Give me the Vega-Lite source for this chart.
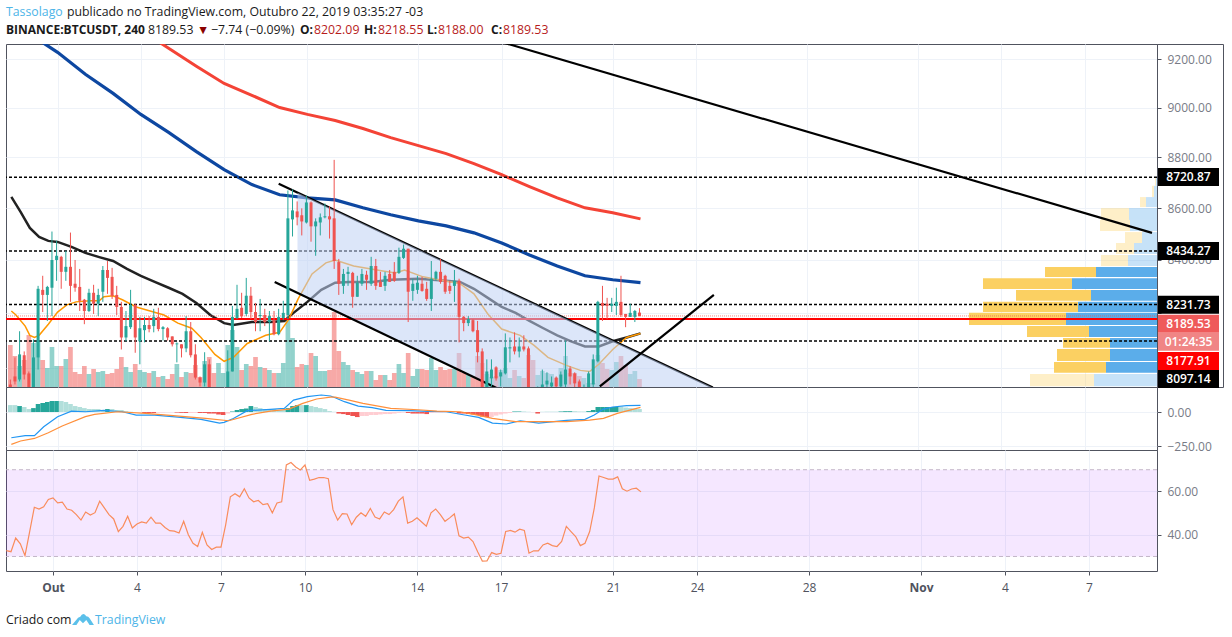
{
  "$schema": "https://vega.github.io/schema/vega-lite/v6.json",
  "background": "white",
  "padding": {"left": 4, "top": 0, "right": 0, "bottom": 0},
  "spacing": 0,
  "bounds": "flush",
  "columns": 2,
  "resolve": {"scale": {"color": "independent", "strokeWidth": "independent"}},
  "config": {
    "font": "Open Sans",
    "view": {"stroke": "#50535e"},
    "axis": {"domain": false, "gridColor": "#eef2f8", "tickColor": "#50535e", "tickSize": 4, "labelColor": "#787b86", "labelFontSize": 12}
  },
  "datasets": {
    "bars": [
      {"t":"2019-09-29T08:00","o":7939,"h":7957,"l":7884,"c":7902,"v":42,"r":32.7,"m":51,"s":"uf"},
      {"t":"2019-09-29T12:00","o":7968,"h":8037,"l":7939,"c":7950,"v":31,"r":32.2,"m":51,"s":"uf"},
      {"t":"2019-09-29T16:00","o":7957,"h":8133,"l":7950,"c":8048,"v":21,"r":38.5,"m":44,"s":"u"},
      {"t":"2019-09-29T20:00","o":8045,"h":8059,"l":7957,"c":7975,"v":27,"r":35.8,"m":37,"s":"uf"},
      {"t":"2019-09-30T00:00","o":7979,"h":7986,"l":7913,"c":7921,"v":52,"r":30.4,"m":22,"s":"uf"},
      {"t":"2019-09-30T04:00","o":7921,"h":8103,"l":7913,"c":8037,"v":44,"r":41.5,"m":29,"s":"u"},
      {"t":"2019-09-30T08:00","o":8037,"h":8302,"l":7993,"c":8291,"v":46,"r":52.7,"m":59,"s":"u"},
      {"t":"2019-09-30T12:00","o":8287,"h":8340,"l":8204,"c":8268,"v":27,"r":51.9,"m":66,"s":"u"},
      {"t":"2019-09-30T16:00","o":8268,"h":8302,"l":8171,"c":8298,"v":19,"r":52.9,"m":74,"s":"u"},
      {"t":"2019-09-30T20:00","o":8295,"h":8509,"l":8189,"c":8400,"v":40,"r":56.3,"m":81,"s":"u"},
      {"t":"2019-10-01T00:00","o":8400,"h":8474,"l":8321,"c":8416,"v":21,"r":57.0,"m":81,"s":"u"},
      {"t":"2019-10-01T04:00","o":8412,"h":8416,"l":8291,"c":8355,"v":21,"r":54.7,"m":81,"s":"uf"},
      {"t":"2019-10-01T08:00","o":8355,"h":8435,"l":8321,"c":8374,"v":28,"r":55.0,"m":74,"s":"uf"},
      {"t":"2019-10-01T12:00","o":8374,"h":8505,"l":8242,"c":8302,"v":40,"r":51.9,"m":59,"s":"uf"},
      {"t":"2019-10-01T16:00","o":8310,"h":8400,"l":8280,"c":8295,"v":15,"r":51.3,"m":44,"s":"uf"},
      {"t":"2019-10-01T20:00","o":8298,"h":8366,"l":8208,"c":8246,"v":13,"r":49.3,"m":37,"s":"uf"},
      {"t":"2019-10-02T00:00","o":8250,"h":8253,"l":8159,"c":8208,"v":21,"r":46.8,"m":29,"s":"uf"},
      {"t":"2019-10-02T04:00","o":8208,"h":8291,"l":8204,"c":8276,"v":13,"r":50.5,"m":22,"s":"uf"},
      {"t":"2019-10-02T08:00","o":8276,"h":8306,"l":8197,"c":8235,"v":18,"r":49.1,"m":22,"s":"uf"},
      {"t":"2019-10-02T12:00","o":8235,"h":8291,"l":8189,"c":8268,"v":15,"r":50.2,"m":22,"s":"uf"},
      {"t":"2019-10-02T16:00","o":8280,"h":8377,"l":8242,"c":8362,"v":16,"r":55.5,"m":15,"s":"uf"},
      {"t":"2019-10-02T20:00","o":8362,"h":8396,"l":8272,"c":8332,"v":13,"r":52.4,"m":22,"s":"u"},
      {"t":"2019-10-03T00:00","o":8336,"h":8370,"l":8253,"c":8265,"v":14,"r":49.3,"m":22,"s":"uf"},
      {"t":"2019-10-03T04:00","o":8268,"h":8302,"l":8193,"c":8223,"v":18,"r":47.3,"m":15,"s":"uf"},
      {"t":"2019-10-03T08:00","o":8223,"h":8242,"l":8066,"c":8110,"v":30,"r":41.5,"m":15,"s":"uf"},
      {"t":"2019-10-03T12:00","o":8110,"h":8208,"l":8096,"c":8152,"v":20,"r":43.9,"m":7,"s":"uf"},
      {"t":"2019-10-03T16:00","o":8148,"h":8287,"l":8141,"c":8231,"v":15,"r":48.5,"m":2,"s":"uf"},
      {"t":"2019-10-03T20:00","o":8231,"h":8235,"l":8054,"c":8110,"v":23,"r":43.1,"m":-4,"s":"df"},
      {"t":"2019-10-04T00:00","o":8096,"h":8186,"l":8012,"c":8144,"v":17,"r":45.0,"m":-4,"s":"df"},
      {"t":"2019-10-04T04:00","o":8137,"h":8186,"l":8092,"c":8156,"v":15,"r":45.9,"m":-7,"s":"d"},
      {"t":"2019-10-04T08:00","o":8156,"h":8189,"l":8129,"c":8141,"v":14,"r":45.4,"m":-7,"s":"d"},
      {"t":"2019-10-04T12:00","o":8152,"h":8216,"l":8129,"c":8186,"v":16,"r":48.1,"m":-7,"s":"d"},
      {"t":"2019-10-04T16:00","o":8186,"h":8220,"l":8133,"c":8141,"v":10,"r":45.4,"m":-4,"s":"df"},
      {"t":"2019-10-04T20:00","o":8141,"h":8152,"l":8099,"c":8148,"v":11,"r":45.4,"m":-4,"s":"df"},
      {"t":"2019-10-05T00:00","o":8144,"h":8148,"l":8099,"c":8110,"v":8,"r":43.4,"m":-2,"s":"df"},
      {"t":"2019-10-05T04:00","o":8114,"h":8114,"l":8077,"c":8085,"v":13,"r":41.9,"m":-2,"s":"df"},
      {"t":"2019-10-05T08:00","o":8085,"h":8092,"l":8019,"c":8088,"v":23,"r":41.7,"m":-4,"s":"d"},
      {"t":"2019-10-05T12:00","o":8085,"h":8085,"l":8037,"c":8070,"v":10,"r":40.8,"m":-6,"s":"d"},
      {"t":"2019-10-05T16:00","o":8070,"h":8189,"l":8056,"c":8133,"v":15,"r":46.2,"m":-7,"s":"d"},
      {"t":"2019-10-05T20:00","o":8133,"h":8167,"l":8037,"c":8045,"v":14,"r":40.0,"m":-7,"s":"df"},
      {"t":"2019-10-06T00:00","o":8048,"h":8085,"l":7957,"c":7964,"v":22,"r":36.1,"m":-6,"s":"df"},
      {"t":"2019-10-06T04:00","o":7964,"h":7968,"l":7932,"c":7946,"v":10,"r":34.6,"m":-7,"s":"d"},
      {"t":"2019-10-06T08:00","o":7946,"h":8056,"l":7932,"c":8012,"v":26,"r":41.1,"m":-7,"s":"d"},
      {"t":"2019-10-06T12:00","o":8012,"h":8030,"l":7902,"c":7913,"v":30,"r":35.3,"m":-11,"s":"d"},
      {"t":"2019-10-06T16:00","o":7913,"h":7920,"l":7880,"c":7891,"v":14,"r":33.2,"m":-11,"s":"d"},
      {"t":"2019-10-06T20:00","o":7891,"h":7925,"l":7880,"c":7913,"v":24,"r":34.3,"m":-18,"s":"d"},
      {"t":"2019-10-07T00:00","o":7902,"h":7925,"l":7895,"c":7921,"v":14,"r":34.3,"m":-22,"s":"d"},
      {"t":"2019-10-07T04:00","o":7921,"h":8063,"l":7913,"c":7986,"v":42,"r":44.6,"m":-11,"s":"df"},
      {"t":"2019-10-07T08:00","o":7986,"h":8227,"l":7986,"c":8186,"v":57,"r":57.5,"m":4,"s":"u"},
      {"t":"2019-10-07T12:00","o":8182,"h":8306,"l":8178,"c":8216,"v":40,"r":58.9,"m":15,"s":"u"},
      {"t":"2019-10-07T16:00","o":8220,"h":8276,"l":8182,"c":8189,"v":17,"r":57.5,"m":22,"s":"u"},
      {"t":"2019-10-07T20:00","o":8197,"h":8332,"l":8189,"c":8265,"v":23,"r":61.2,"m":26,"s":"u"},
      {"t":"2019-10-08T00:00","o":8265,"h":8298,"l":8178,"c":8204,"v":21,"r":57.0,"m":44,"s":"u"},
      {"t":"2019-10-08T04:00","o":8204,"h":8238,"l":8133,"c":8167,"v":30,"r":55.2,"m":37,"s":"uf"},
      {"t":"2019-10-08T08:00","o":8189,"h":8253,"l":8133,"c":8193,"v":20,"r":55.8,"m":29,"s":"uf"},
      {"t":"2019-10-08T12:00","o":8193,"h":8216,"l":8152,"c":8167,"v":19,"r":53.9,"m":22,"s":"uf"},
      {"t":"2019-10-08T16:00","o":8167,"h":8208,"l":8096,"c":8189,"v":17,"r":54.3,"m":22,"s":"uf"},
      {"t":"2019-10-08T20:00","o":8174,"h":8208,"l":8118,"c":8122,"v":14,"r":50.1,"m":22,"s":"uf"},
      {"t":"2019-10-09T00:00","o":8122,"h":8216,"l":8118,"c":8186,"v":14,"r":54.7,"m":15,"s":"uf"},
      {"t":"2019-10-09T04:00","o":8182,"h":8246,"l":8174,"c":8201,"v":24,"r":55.2,"m":15,"s":"uf"},
      {"t":"2019-10-09T08:00","o":8193,"h":8669,"l":8178,"c":8560,"v":67,"r":72.2,"m":29,"s":"u"},
      {"t":"2019-10-09T12:00","o":8556,"h":8673,"l":8490,"c":8591,"v":49,"r":73.3,"m":44,"s":"u"},
      {"t":"2019-10-09T16:00","o":8587,"h":8626,"l":8533,"c":8564,"v":20,"r":71.3,"m":51,"s":"u"},
      {"t":"2019-10-09T20:00","o":8572,"h":8599,"l":8494,"c":8548,"v":23,"r":69.9,"m":51,"s":"uf"},
      {"t":"2019-10-10T00:00","o":8544,"h":8650,"l":8540,"c":8622,"v":22,"r":72.2,"m":51,"s":"u"},
      {"t":"2019-10-10T04:00","o":8622,"h":8626,"l":8470,"c":8529,"v":34,"r":65.1,"m":44,"s":"uf"},
      {"t":"2019-10-10T08:00","o":8529,"h":8560,"l":8416,"c":8548,"v":31,"r":65.7,"m":37,"s":"uf"},
      {"t":"2019-10-10T12:00","o":8544,"h":8579,"l":8494,"c":8564,"v":16,"r":66.4,"m":29,"s":"uf"},
      {"t":"2019-10-10T16:00","o":8564,"h":8618,"l":8560,"c":8568,"v":16,"r":66.4,"m":22,"s":"uf"},
      {"t":"2019-10-10T20:00","o":8568,"h":8607,"l":8482,"c":8556,"v":17,"r":65.9,"m":7,"s":"uf"},
      {"t":"2019-10-11T00:00","o":8560,"h":8790,"l":8366,"c":8396,"v":75,"r":51.6,"m":2,"s":"uf"},
      {"t":"2019-10-11T04:00","o":8392,"h":8404,"l":8268,"c":8310,"v":36,"r":46.8,"m":-11,"s":"d"},
      {"t":"2019-10-11T08:00","o":8302,"h":8366,"l":8272,"c":8347,"v":25,"r":49.8,"m":-15,"s":"d"},
      {"t":"2019-10-11T12:00","o":8347,"h":8374,"l":8302,"c":8355,"v":22,"r":49.6,"m":-22,"s":"d"},
      {"t":"2019-10-11T16:00","o":8351,"h":8355,"l":8220,"c":8261,"v":17,"r":44.6,"m":-29,"s":"d"},
      {"t":"2019-10-11T20:00","o":8261,"h":8340,"l":8261,"c":8314,"v":15,"r":48.1,"m":-37,"s":"d"},
      {"t":"2019-10-12T00:00","o":8310,"h":8366,"l":8302,"c":8347,"v":13,"r":50.1,"m":-29,"s":"df"},
      {"t":"2019-10-12T04:00","o":8344,"h":8359,"l":8287,"c":8325,"v":16,"r":48.5,"m":-29,"s":"df"},
      {"t":"2019-10-12T08:00","o":8310,"h":8412,"l":8302,"c":8377,"v":16,"r":52.1,"m":-22,"s":"df"},
      {"t":"2019-10-12T12:00","o":8377,"h":8404,"l":8287,"c":8302,"v":7,"r":48.2,"m":-22,"s":"df"},
      {"t":"2019-10-12T16:00","o":8317,"h":8355,"l":8298,"c":8298,"v":12,"r":47.3,"m":-18,"s":"df"},
      {"t":"2019-10-12T20:00","o":8302,"h":8355,"l":8283,"c":8340,"v":12,"r":50.5,"m":-15,"s":"df"},
      {"t":"2019-10-13T00:00","o":8347,"h":8362,"l":8317,"c":8317,"v":7,"r":49.3,"m":-15,"s":"df"},
      {"t":"2019-10-13T04:00","o":8355,"h":8392,"l":8317,"c":8321,"v":14,"r":51.6,"m":-11,"s":"df"},
      {"t":"2019-10-13T08:00","o":8351,"h":8447,"l":8347,"c":8412,"v":23,"r":55.5,"m":-7,"s":"df"},
      {"t":"2019-10-13T12:00","o":8408,"h":8459,"l":8404,"c":8443,"v":14,"r":57.5,"m":-4,"s":"df"},
      {"t":"2019-10-13T16:00","o":8443,"h":8443,"l":8167,"c":8280,"v":34,"r":45.4,"m":-7,"s":"d"},
      {"t":"2019-10-13T20:00","o":8283,"h":8329,"l":8246,"c":8310,"v":11,"r":46.2,"m":-11,"s":"d"},
      {"t":"2019-10-14T00:00","o":8287,"h":8340,"l":8272,"c":8314,"v":18,"r":47.8,"m":-11,"s":"d"},
      {"t":"2019-10-14T04:00","o":8310,"h":8336,"l":8280,"c":8283,"v":18,"r":45.9,"m":-11,"s":"d"},
      {"t":"2019-10-14T08:00","o":8291,"h":8317,"l":8246,"c":8253,"v":17,"r":44.0,"m":-15,"s":"d"},
      {"t":"2019-10-14T12:00","o":8253,"h":8396,"l":8208,"c":8329,"v":29,"r":50.1,"m":-7,"s":"df"},
      {"t":"2019-10-14T16:00","o":8329,"h":8359,"l":8321,"c":8355,"v":17,"r":51.9,"m":-4,"s":"df"},
      {"t":"2019-10-14T20:00","o":8355,"h":8404,"l":8310,"c":8317,"v":20,"r":49.3,"m":-4,"s":"df"},
      {"t":"2019-10-15T00:00","o":8340,"h":8344,"l":8272,"c":8280,"v":17,"r":46.2,"m":-2,"s":"df"},
      {"t":"2019-10-15T04:00","o":8302,"h":8321,"l":8272,"c":8283,"v":18,"r":47.8,"m":-2,"s":"df"},
      {"t":"2019-10-15T08:00","o":8302,"h":8362,"l":8242,"c":8321,"v":18,"r":49.6,"m":-2,"s":"df"},
      {"t":"2019-10-15T12:00","o":8321,"h":8329,"l":8092,"c":8186,"v":34,"r":39.5,"m":-11,"s":"d"},
      {"t":"2019-10-15T16:00","o":8186,"h":8189,"l":8133,"c":8163,"v":14,"r":38.5,"m":-11,"s":"d"},
      {"t":"2019-10-15T20:00","o":8163,"h":8189,"l":8152,"c":8178,"v":12,"r":38.9,"m":-15,"s":"d"},
      {"t":"2019-10-16T00:00","o":8174,"h":8178,"l":8129,"c":8133,"v":11,"r":36.9,"m":-18,"s":"d"},
      {"t":"2019-10-16T04:00","o":8137,"h":8171,"l":8019,"c":8056,"v":31,"r":32.2,"m":-22,"s":"d"},
      {"t":"2019-10-16T08:00","o":8059,"h":8070,"l":7902,"c":7913,"v":24,"r":27.9,"m":-33,"s":"d"},
      {"t":"2019-10-16T12:00","o":7913,"h":8030,"l":7906,"c":7986,"v":13,"r":28.0,"m":-37,"s":"d"},
      {"t":"2019-10-16T16:00","o":7961,"h":8030,"l":7932,"c":7993,"v":10,"r":31.8,"m":-37,"s":"df"},
      {"t":"2019-10-16T20:00","o":8001,"h":8005,"l":7953,"c":7961,"v":11,"r":31.0,"m":-26,"s":"df"},
      {"t":"2019-10-17T00:00","o":7968,"h":7993,"l":7932,"c":7983,"v":17,"r":31.5,"m":-18,"s":"df"},
      {"t":"2019-10-17T04:00","o":7979,"h":8125,"l":7975,"c":8074,"v":19,"r":41.5,"m":-11,"s":"df"},
      {"t":"2019-10-17T08:00","o":8070,"h":8110,"l":8019,"c":8074,"v":9,"r":42.0,"m":-7,"s":"df"},
      {"t":"2019-10-17T12:00","o":8077,"h":8129,"l":8048,"c":8059,"v":17,"r":41.2,"m":4,"s":"u"},
      {"t":"2019-10-17T16:00","o":8059,"h":8110,"l":8037,"c":8077,"v":11,"r":42.6,"m":4,"s":"u"},
      {"t":"2019-10-17T20:00","o":8077,"h":8118,"l":8059,"c":8066,"v":9,"r":42.0,"m":4,"s":"uf"},
      {"t":"2019-10-18T00:00","o":8070,"h":8077,"l":7902,"c":7913,"v":32,"r":31.5,"m":2,"s":"uf"},
      {"t":"2019-10-18T04:00","o":7913,"h":7925,"l":7880,"c":7891,"v":27,"r":32.6,"m":-2,"s":"df"},
      {"t":"2019-10-18T08:00","o":7899,"h":7932,"l":7888,"c":7921,"v":12,"r":32.6,"m":-11,"s":"d"},
      {"t":"2019-10-18T12:00","o":7913,"h":7993,"l":7902,"c":7939,"v":16,"r":35.3,"m":2,"s":"uf"},
      {"t":"2019-10-18T16:00","o":7939,"h":7983,"l":7913,"c":7953,"v":14,"r":36.1,"m":3,"s":"uf"},
      {"t":"2019-10-18T20:00","o":7932,"h":7968,"l":7913,"c":7946,"v":13,"r":35.0,"m":3,"s":"uf"},
      {"t":"2019-10-19T00:00","o":7964,"h":7968,"l":7913,"c":7932,"v":9,"r":34.6,"m":3,"s":"uf"},
      {"t":"2019-10-19T04:00","o":7932,"h":7986,"l":7913,"c":7975,"v":19,"r":36.9,"m":4,"s":"u"},
      {"t":"2019-10-19T08:00","o":7939,"h":8099,"l":7921,"c":7993,"v":31,"r":43.9,"m":6,"s":"u"},
      {"t":"2019-10-19T12:00","o":7997,"h":8005,"l":7939,"c":7968,"v":14,"r":41.5,"m":6,"s":"u"},
      {"t":"2019-10-19T16:00","o":7979,"h":7983,"l":7921,"c":7943,"v":14,"r":39.2,"m":6,"s":"uf"},
      {"t":"2019-10-19T20:00","o":7950,"h":7957,"l":7902,"c":7921,"v":11,"r":35.0,"m":4,"s":"uf"},
      {"t":"2019-10-20T00:00","o":7906,"h":7939,"l":7895,"c":7928,"v":9,"r":36.1,"m":4,"s":"uf"},
      {"t":"2019-10-20T04:00","o":7913,"h":7986,"l":7902,"c":7979,"v":4,"r":41.5,"m":7,"s":"u"},
      {"t":"2019-10-20T08:00","o":7939,"h":8048,"l":7913,"c":8030,"v":4,"r":52.4,"m":15,"s":"u"},
      {"t":"2019-10-20T12:00","o":8023,"h":8246,"l":8019,"c":8242,"v":32,"r":67.1,"m":37,"s":"u"},
      {"t":"2019-10-20T16:00","o":8238,"h":8302,"l":8171,"c":8227,"v":24,"r":66.4,"m":37,"s":"u"},
      {"t":"2019-10-20T20:00","o":8235,"h":8257,"l":8178,"c":8227,"v":18,"r":65.7,"m":37,"s":"u"},
      {"t":"2019-10-21T00:00","o":8227,"h":8257,"l":8204,"c":8235,"v":17,"r":65.7,"m":37,"s":"u"},
      {"t":"2019-10-21T04:00","o":8227,"h":8295,"l":8193,"c":8242,"v":25,"r":66.7,"m":37,"s":"u"},
      {"t":"2019-10-21T08:00","o":8242,"h":8340,"l":8186,"c":8193,"v":31,"r":61.2,"m":40,"s":"uf"},
      {"t":"2019-10-21T12:00","o":8197,"h":8197,"l":8148,"c":8186,"v":22,"r":60.1,"m":33,"s":"uf"},
      {"t":"2019-10-21T16:00","o":8186,"h":8235,"l":8186,"c":8201,"v":13,"r":61.1,"m":29,"s":"uf"},
      {"t":"2019-10-21T20:00","o":8186,"h":8212,"l":8167,"c":8208,"v":16,"r":61.5,"m":26,"s":"uf"},
      {"t":"2019-10-22T00:00","o":8202.09,"h":8218.55,"l":8188,"c":8189.53,"v":8,"r":59.8,"m":22,"s":"uf"}
    ],
    "ma": [
      {"s":"ma100","t":"2019-09-30T08:00","p":9280},{"s":"ma100","t":"2019-10-01T00:00","p":9229},{"s":"ma100","t":"2019-10-02T00:00","p":9138},{"s":"ma100","t":"2019-10-03T00:00","p":9059},{"s":"ma100","t":"2019-10-04T00:00","p":8973},{"s":"ma100","t":"2019-10-05T00:00","p":8900},{"s":"ma100","t":"2019-10-06T00:00","p":8823},{"s":"ma100","t":"2019-10-07T00:00","p":8751},{"s":"ma100","t":"2019-10-08T00:00","p":8692},{"s":"ma100","t":"2019-10-09T00:00","p":8652},{"s":"ma100","t":"2019-10-10T00:00","p":8640},{"s":"ma100","t":"2019-10-11T00:00","p":8632},{"s":"ma100","t":"2019-10-12T00:00","p":8601},{"s":"ma100","t":"2019-10-13T00:00","p":8574},{"s":"ma100","t":"2019-10-14T00:00","p":8550},{"s":"ma100","t":"2019-10-15T00:00","p":8531},{"s":"ma100","t":"2019-10-16T00:00","p":8504},{"s":"ma100","t":"2019-10-17T00:00","p":8465},{"s":"ma100","t":"2019-10-18T00:00","p":8419},{"s":"ma100","t":"2019-10-19T00:00","p":8377},{"s":"ma100","t":"2019-10-20T00:00","p":8340},{"s":"ma100","t":"2019-10-21T00:00","p":8325},{"s":"ma100","t":"2019-10-22T00:00","p":8314},
      {"s":"ma200","t":"2019-10-04T08:00","p":9297},{"s":"ma200","t":"2019-10-05T00:00","p":9246},{"s":"ma200","t":"2019-10-06T00:00","p":9171},{"s":"ma200","t":"2019-10-07T00:00","p":9100},{"s":"ma200","t":"2019-10-08T00:00","p":9051},{"s":"ma200","t":"2019-10-09T00:00","p":9001},{"s":"ma200","t":"2019-10-10T00:00","p":8973},{"s":"ma200","t":"2019-10-11T00:00","p":8948},{"s":"ma200","t":"2019-10-12T00:00","p":8916},{"s":"ma200","t":"2019-10-13T00:00","p":8879},{"s":"ma200","t":"2019-10-14T00:00","p":8847},{"s":"ma200","t":"2019-10-15T00:00","p":8815},{"s":"ma200","t":"2019-10-16T00:00","p":8775},{"s":"ma200","t":"2019-10-17T00:00","p":8731},{"s":"ma200","t":"2019-10-18T00:00","p":8684},{"s":"ma200","t":"2019-10-19T00:00","p":8640},{"s":"ma200","t":"2019-10-20T00:00","p":8601},{"s":"ma200","t":"2019-10-21T00:00","p":8582},{"s":"ma200","t":"2019-10-22T00:00","p":8558},
      {"s":"ma50","t":"2019-09-29T08:00","p":8644},{"s":"ma50","t":"2019-09-29T16:00","p":8585},{"s":"ma50","t":"2019-09-30T00:00","p":8523},{"s":"ma50","t":"2019-09-30T08:00","p":8488},{"s":"ma50","t":"2019-09-30T16:00","p":8473},{"s":"ma50","t":"2019-10-01T00:00","p":8469},{"s":"ma50","t":"2019-10-01T12:00","p":8450},{"s":"ma50","t":"2019-10-02T00:00","p":8427},{"s":"ma50","t":"2019-10-02T12:00","p":8411},{"s":"ma50","t":"2019-10-03T00:00","p":8396},{"s":"ma50","t":"2019-10-03T12:00","p":8366},{"s":"ma50","t":"2019-10-04T00:00","p":8340},{"s":"ma50","t":"2019-10-04T12:00","p":8317},{"s":"ma50","t":"2019-10-05T00:00","p":8295},{"s":"ma50","t":"2019-10-05T12:00","p":8272},{"s":"ma50","t":"2019-10-06T00:00","p":8238},{"s":"ma50","t":"2019-10-06T12:00","p":8193},{"s":"ma50","t":"2019-10-07T00:00","p":8163},{"s":"ma50","t":"2019-10-07T08:00","p":8156},{"s":"ma50","t":"2019-10-08T00:00","p":8167},{"s":"ma50","t":"2019-10-08T16:00","p":8167},{"s":"ma50","t":"2019-10-09T04:00","p":8171},{"s":"ma50","t":"2019-10-09T12:00","p":8201},{"s":"ma50","t":"2019-10-10T00:00","p":8242},{"s":"ma50","t":"2019-10-10T12:00","p":8287},{"s":"ma50","t":"2019-10-11T00:00","p":8314},{"s":"ma50","t":"2019-10-11T12:00","p":8317},{"s":"ma50","t":"2019-10-12T08:00","p":8317},{"s":"ma50","t":"2019-10-13T00:00","p":8325},{"s":"ma50","t":"2019-10-14T00:00","p":8329},{"s":"ma50","t":"2019-10-15T00:00","p":8321},{"s":"ma50","t":"2019-10-15T12:00","p":8317},{"s":"ma50","t":"2019-10-16T00:00","p":8291},{"s":"ma50","t":"2019-10-16T12:00","p":8257},{"s":"ma50","t":"2019-10-17T00:00","p":8223},{"s":"ma50","t":"2019-10-17T12:00","p":8201},{"s":"ma50","t":"2019-10-18T00:00","p":8171},{"s":"ma50","t":"2019-10-18T12:00","p":8144},{"s":"ma50","t":"2019-10-19T00:00","p":8118},{"s":"ma50","t":"2019-10-19T12:00","p":8096},{"s":"ma50","t":"2019-10-20T00:00","p":8077},{"s":"ma50","t":"2019-10-20T12:00","p":8077},{"s":"ma50","t":"2019-10-21T00:00","p":8096},{"s":"ma50","t":"2019-10-21T12:00","p":8110},{"s":"ma50","t":"2019-10-22T00:00","p":8125},
      {"s":"ma20","t":"2019-09-29T08:00","p":8208},{"s":"ma20","t":"2019-09-29T12:00","p":8193},{"s":"ma20","t":"2019-09-29T20:00","p":8152},{"s":"ma20","t":"2019-09-30T00:00","p":8118},{"s":"ma20","t":"2019-09-30T04:00","p":8110},{"s":"ma20","t":"2019-09-30T08:00","p":8118},{"s":"ma20","t":"2019-09-30T16:00","p":8159},{"s":"ma20","t":"2019-10-01T00:00","p":8204},{"s":"ma20","t":"2019-10-01T08:00","p":8231},{"s":"ma20","t":"2019-10-01T16:00","p":8242},{"s":"ma20","t":"2019-10-02T04:00","p":8246},{"s":"ma20","t":"2019-10-02T12:00","p":8246},{"s":"ma20","t":"2019-10-02T16:00","p":8261},{"s":"ma20","t":"2019-10-03T00:00","p":8265},{"s":"ma20","t":"2019-10-03T08:00","p":8250},{"s":"ma20","t":"2019-10-03T20:00","p":8223},{"s":"ma20","t":"2019-10-04T08:00","p":8208},{"s":"ma20","t":"2019-10-04T20:00","p":8193},{"s":"ma20","t":"2019-10-05T08:00","p":8163},{"s":"ma20","t":"2019-10-05T20:00","p":8144},{"s":"ma20","t":"2019-10-06T04:00","p":8110},{"s":"ma20","t":"2019-10-06T16:00","p":8048},{"s":"ma20","t":"2019-10-07T00:00","p":8023},{"s":"ma20","t":"2019-10-07T08:00","p":8037},{"s":"ma20","t":"2019-10-07T20:00","p":8088},{"s":"ma20","t":"2019-10-08T12:00","p":8118},{"s":"ma20","t":"2019-10-09T00:00","p":8129},{"s":"ma20","t":"2019-10-09T08:00","p":8178},{"s":"ma20","t":"2019-10-09T16:00","p":8253},{"s":"ma20","t":"2019-10-10T04:00","p":8347},{"s":"ma20","t":"2019-10-10T16:00","p":8389},{"s":"ma20","t":"2019-10-11T00:00","p":8400},{"s":"ma20","t":"2019-10-11T16:00","p":8377},{"s":"ma20","t":"2019-10-12T16:00","p":8359},{"s":"ma20","t":"2019-10-13T04:00","p":8351},{"s":"ma20","t":"2019-10-13T12:00","p":8362},{"s":"ma20","t":"2019-10-14T04:00","p":8336},{"s":"ma20","t":"2019-10-15T12:00","p":8310},{"s":"ma20","t":"2019-10-16T00:00","p":8272},{"s":"ma20","t":"2019-10-16T12:00","p":8197},{"s":"ma20","t":"2019-10-17T00:00","p":8141},{"s":"ma20","t":"2019-10-17T16:00","p":8118},{"s":"ma20","t":"2019-10-18T04:00","p":8081},{"s":"ma20","t":"2019-10-18T16:00","p":8037},{"s":"ma20","t":"2019-10-19T08:00","p":8008},{"s":"ma20","t":"2019-10-19T20:00","p":7990},{"s":"ma20","t":"2019-10-20T04:00","p":7986},{"s":"ma20","t":"2019-10-20T12:00","p":8012},{"s":"ma20","t":"2019-10-21T00:00","p":8066},{"s":"ma20","t":"2019-10-21T12:00","p":8110},{"s":"ma20","t":"2019-10-22T00:00","p":8125}
    ],
    "trend": [
      {"id":"upper","t":"2019-10-08T23:09","p":8695},{"id":"upper","t":"2019-10-24T14:34","p":7928},
      {"id":"lower","t":"2019-10-08T19:43","p":8317},{"id":"lower","t":"2019-10-16T22:17","p":7921},
      {"id":"long","t":"2019-10-17T00:00","p":9272},{"id":"long","t":"2019-11-09T10:17","p":8504},
      {"id":"rising","t":"2019-10-20T12:51","p":7932},{"id":"rising","t":"2019-10-24T15:26","p":8268}
    ],
    "channel": [
      {"t":"2019-10-09T15:26","p":8660,"q":8276},
      {"t":"2019-10-24T14:34","p":7928,"q":7565}
    ],
    "profile": [
      {"hi":8718,"lo":8687,"up":1,"total":2,"pale":true},
      {"hi":8687,"lo":8643,"up":3,"total":5,"pale":true},
      {"hi":8643,"lo":8604,"up":11,"total":17,"pale":true},
      {"hi":8600,"lo":8554,"up":28,"total":56,"pale":true},
      {"hi":8554,"lo":8511,"up":27,"total":57,"pale":true},
      {"hi":8507,"lo":8465,"up":15,"total":32,"pale":true},
      {"hi":8465,"lo":8423,"up":23,"total":41,"pale":true},
      {"hi":8419,"lo":8377,"up":29,"total":56,"pale":true},
      {"hi":8373,"lo":8335,"up":61,"total":112,"pale":false},
      {"hi":8331,"lo":8290,"up":85,"total":174,"pale":false},
      {"hi":8286,"lo":8246,"up":66,"total":141,"pale":false},
      {"hi":8242,"lo":8204,"up":79,"total":174,"pale":false},
      {"hi":8201,"lo":8156,"up":91,"total":188,"pale":false},
      {"hi":8152,"lo":8112,"up":68,"total":130,"pale":false},
      {"hi":8108,"lo":8072,"up":47,"total":94,"pale":false},
      {"hi":8068,"lo":8024,"up":47,"total":100,"pale":false},
      {"hi":8020,"lo":7981,"up":51,"total":103,"pale":false},
      {"hi":7977,"lo":7933,"up":63,"total":127,"pale":true}
    ],
    "tags": [
      {"label":"8720.87","at":8722,"kind":"level"},
      {"label":"8434.27","at":8434,"kind":"level"},
      {"label":"8231.73","at":8231,"kind":"level"},
      {"label":"8189.53","at":8161,"kind":"last"},
      {"label":"01:24:35","at":8094,"kind":"timer"},
      {"label":"8177.91","at":8024,"kind":"bid"},
      {"label":"8097.14","at":7959,"kind":"level"}
    ],
    "macd": [
      {"s":"macd","t":"2019-09-29T08:00","m":-189},{"s":"macd","t":"2019-09-29T20:00","m":-174},{"s":"macd","t":"2019-09-30T04:00","m":-174},{"s":"macd","t":"2019-09-30T12:00","m":-108},{"s":"macd","t":"2019-10-01T00:00","m":-34},{"s":"macd","t":"2019-10-01T12:00","m":7},{"s":"macd","t":"2019-10-02T00:00","m":2},{"s":"macd","t":"2019-10-02T16:00","m":12},{"s":"macd","t":"2019-10-03T08:00","m":2},{"s":"macd","t":"2019-10-03T20:00","m":-22},{"s":"macd","t":"2019-10-04T12:00","m":-22},{"s":"macd","t":"2019-10-05T08:00","m":-37},{"s":"macd","t":"2019-10-06T04:00","m":-54},{"s":"macd","t":"2019-10-06T20:00","m":-81},{"s":"macd","t":"2019-10-07T00:00","m":-76},{"s":"macd","t":"2019-10-07T08:00","m":-47},{"s":"macd","t":"2019-10-07T20:00","m":10},{"s":"macd","t":"2019-10-08T16:00","m":20},{"s":"macd","t":"2019-10-09T04:00","m":27},{"s":"macd","t":"2019-10-09T12:00","m":88},{"s":"macd","t":"2019-10-10T00:00","m":113},{"s":"macd","t":"2019-10-10T12:00","m":125},{"s":"macd","t":"2019-10-10T20:00","m":118},{"s":"macd","t":"2019-10-11T00:00","m":105},{"s":"macd","t":"2019-10-11T08:00","m":76},{"s":"macd","t":"2019-10-11T20:00","m":44},{"s":"macd","t":"2019-10-12T08:00","m":32},{"s":"macd","t":"2019-10-12T20:00","m":12},{"s":"macd","t":"2019-10-13T16:00","m":10},{"s":"macd","t":"2019-10-14T08:00","m":5},{"s":"macd","t":"2019-10-15T00:00","m":2},{"s":"macd","t":"2019-10-15T16:00","m":-22},{"s":"macd","t":"2019-10-16T04:00","m":-39},{"s":"macd","t":"2019-10-16T16:00","m":-81},{"s":"macd","t":"2019-10-17T04:00","m":-88},{"s":"macd","t":"2019-10-17T16:00","m":-64},{"s":"macd","t":"2019-10-18T08:00","m":-81},{"s":"macd","t":"2019-10-19T08:00","m":-61},{"s":"macd","t":"2019-10-20T00:00","m":-54},{"s":"macd","t":"2019-10-20T08:00","m":-22},{"s":"macd","t":"2019-10-20T16:00","m":22},{"s":"macd","t":"2019-10-21T00:00","m":37},{"s":"macd","t":"2019-10-21T12:00","m":47},{"s":"macd","t":"2019-10-22T00:00","m":49},
      {"s":"signal","t":"2019-09-29T08:00","m":-238},{"s":"signal","t":"2019-09-29T16:00","m":-213},{"s":"signal","t":"2019-09-30T04:00","m":-194},{"s":"signal","t":"2019-09-30T16:00","m":-152},{"s":"signal","t":"2019-10-01T04:00","m":-103},{"s":"signal","t":"2019-10-02T00:00","m":-34},{"s":"signal","t":"2019-10-02T08:00","m":-17},{"s":"signal","t":"2019-10-03T04:00","m":2},{"s":"signal","t":"2019-10-04T04:00","m":-10},{"s":"signal","t":"2019-10-05T04:00","m":-27},{"s":"signal","t":"2019-10-06T08:00","m":-47},{"s":"signal","t":"2019-10-07T04:00","m":-64},{"s":"signal","t":"2019-10-08T00:00","m":-17},{"s":"signal","t":"2019-10-08T16:00","m":7},{"s":"signal","t":"2019-10-09T08:00","m":22},{"s":"signal","t":"2019-10-09T20:00","m":64},{"s":"signal","t":"2019-10-10T08:00","m":96},{"s":"signal","t":"2019-10-10T20:00","m":110},{"s":"signal","t":"2019-10-11T00:00","m":110},{"s":"signal","t":"2019-10-11T12:00","m":88},{"s":"signal","t":"2019-10-12T00:00","m":64},{"s":"signal","t":"2019-10-13T00:00","m":27},{"s":"signal","t":"2019-10-14T00:00","m":17},{"s":"signal","t":"2019-10-14T16:00","m":7},{"s":"signal","t":"2019-10-15T12:00","m":2},{"s":"signal","t":"2019-10-16T00:00","m":-17},{"s":"signal","t":"2019-10-16T16:00","m":-47},{"s":"signal","t":"2019-10-17T12:00","m":-71},{"s":"signal","t":"2019-10-18T08:00","m":-71},{"s":"signal","t":"2019-10-19T08:00","m":-71},{"s":"signal","t":"2019-10-20T04:00","m":-59},{"s":"signal","t":"2019-10-20T16:00","m":-47},{"s":"signal","t":"2019-10-21T04:00","m":-10},{"s":"signal","t":"2019-10-22T00:00","m":34}
    ],
    "head": [
      {"text":"Tassolago","slot":0,"line":"a","tone":"link","bold":false},
      {"text":"publicado no TradingView.com, Outubro 22, 2019 03:35:27 -03","slot":1,"line":"a","tone":"plain","bold":false},
      {"text":"BINANCE:BTCUSDT, 240","slot":0,"line":"b","tone":"plain","bold":true},
      {"text":"8189.53","slot":2,"line":"b","tone":"plain","bold":false},
      {"text":"▼","slot":3,"line":"b","tone":"drop","bold":false},
      {"text":"−7.74 (−0.09%)","slot":4,"line":"b","tone":"plain","bold":false},
      {"text":"O:","slot":5,"line":"b","tone":"plain","bold":true},
      {"text":"8202.09","slot":6,"line":"b","tone":"price","bold":false},
      {"text":"H:","slot":7,"line":"b","tone":"plain","bold":true},
      {"text":"8218.55","slot":8,"line":"b","tone":"price","bold":false},
      {"text":"L:","slot":9,"line":"b","tone":"plain","bold":true},
      {"text":"8188.00","slot":10,"line":"b","tone":"price","bold":false},
      {"text":"C:","slot":11,"line":"b","tone":"plain","bold":true},
      {"text":"8189.53","slot":12,"line":"b","tone":"price","bold":false}
    ]
  },
  "concat": [
    {
      "width": 1151,
      "height": 44,
      "view": {"stroke": null},
      "data": {"name": "head"},
      "encoding": {
        "x": {"field": "slot", "type": "quantitative", "axis": null, "scale": {"domain": [0,1,2,3,4,5,6,7,8,9,10,11,12], "range": [0,61,142,191,205,294,308,358,372,421,432,485,497]}},
        "y": {"field": "line", "type": "nominal", "axis": null, "scale": {"domain": ["a","b"], "range": [12,30], "padding": 0}},
        "text": {"field": "text"},
        "color": {"field": "tone", "type": "nominal", "legend": null, "scale": {"domain": ["link","plain","drop","price"], "range": ["#4db5e8","#1a1a1a","#8b0000","#b71c1c"]}}
      },
      "layer": [
        {"transform": [{"filter": "!datum.bold"}], "mark": {"type": "text", "align": "left", "fontSize": 12.3}},
        {"transform": [{"filter": "datum.bold"}], "mark": {"type": "text", "align": "left", "fontSize": 12, "fontWeight": "bold"}}
      ]
    },
    {"width": 66, "height": 44, "view": {"stroke": null}, "data": {"values": []}, "mark": "text", "encoding": {}},
    {
      "width": 1151,
      "height": 343,
      "resolve": {"scale": {"x": "independent", "y": "independent"}},
      "layer": [
        {
          "data": {"name": "bars"},
          "mark": {"type": "bar", "size": 4.67, "opacity": 0.5, "clip": true, "xOffset": -1},
          "encoding": {
            "x": {"field": "t", "type": "temporal", "axis": null, "scale": {"domain": ["2019-09-29T07:43","2019-11-09T10:17"]}},
            "y": {"field": "v", "type": "quantitative", "axis": null, "scale": {"domain": [0,343]}},
            "color": {"condition": {"test": "datum.c >= datum.o", "value": "#26a69a"}, "value": "#ef5350"}
          }
        },
        {
          "data": {"name": "profile"},
          "encoding": {
            "y": {"field": "hi", "type": "quantitative", "axis": null, "scale": {"type": "log", "domain": [7930,9264], "nice": false}},
            "y2": {"field": "lo"},
            "opacity": {"condition": {"test": "datum.pale", "value": 0.35}, "value": 1}
          },
          "layer": [
            {
              "mark": {"type": "rect", "color": "#fbd062"},
              "encoding": {
                "x": {"field": "total", "type": "quantitative", "axis": null, "scale": {"domain": [0,1151], "reverse": true}},
                "x2": {"field": "up"}
              }
            },
            {
              "mark": {"type": "rect", "color": "#5badea"},
              "encoding": {
                "x": {"field": "up", "type": "quantitative", "axis": null, "scale": {"domain": [0,1151], "reverse": true}},
                "x2": {"datum": 0}
              }
            }
          ]
        },
        {
          "layer": [
            {
              "data": {"name": "ma"},
              "mark": {"type": "line", "clip": true},
              "encoding": {
                "x": {"field": "t", "type": "temporal", "axis": {"title": null}, "scale": {"domain": ["2019-09-29T07:43","2019-11-09T10:17"]}},
                "y": {"field": "p", "type": "quantitative", "axis": {"title": null}, "scale": {"type": "log", "domain": [7930,9264], "nice": false}},
                "color": {"field": "s", "type": "nominal", "legend": null, "scale": {"domain": ["ma200","ma100","ma50","ma20"], "range": ["#f44336","#0d47a1","#222222","#ff9800"]}},
                "strokeWidth": {"field": "s", "type": "nominal", "legend": null, "scale": {"type": "ordinal", "domain": ["ma200","ma100","ma50","ma20"], "range": [3,3.2,2.5,1.5]}}
              }
            },
            {
              "data": {"values": [{"p": 8720.87},{"p": 8434.27},{"p": 8231.73},{"p": 8097.14}]},
              "mark": {"type": "rule", "color": "#000000", "strokeWidth": 1.5, "strokeDash": [3,2]},
              "encoding": {"y": {"field": "p", "type": "quantitative", "axis": {"title": null}, "scale": {"type": "log"}}}
            },
            {
              "data": {"values": [{"p": 8189.53}]},
              "mark": {"type": "rule", "color": "#ef5350", "strokeWidth": 1, "strokeDash": [1,1], "opacity": 0.7},
              "encoding": {"y": {"field": "p", "type": "quantitative", "axis": {"title": null}, "scale": {"type": "log"}}}
            },
            {
              "data": {"values": [{"p": 8177.91}]},
              "mark": {"type": "rule", "color": "#ff0000", "strokeWidth": 2},
              "encoding": {"y": {"field": "p", "type": "quantitative", "axis": {"title": null}, "scale": {"type": "log"}}}
            },
            {
              "data": {"name": "trend"},
              "transform": [{"filter": "datum.id == 'upper'"}],
              "mark": {"type": "line", "color": "#000000", "strokeWidth": 2.2, "clip": true},
              "encoding": {
                "x": {"field": "t", "type": "temporal", "axis": {"title": null}},
                "y": {"field": "p", "type": "quantitative", "axis": {"title": null}, "scale": {"type": "log"}}
              }
            },
            {
              "data": {"name": "channel"},
              "mark": {"type": "area", "color": "#bfd2f4", "opacity": 0.55, "clip": true},
              "encoding": {
                "x": {"field": "t", "type": "temporal", "axis": {"title": null}},
                "y": {"field": "p", "type": "quantitative", "axis": {"title": null}, "scale": {"type": "log"}},
                "y2": {"field": "q"}
              }
            },
            {
              "data": {"name": "trend"},
              "transform": [{"filter": "datum.id != 'upper'"}],
              "mark": {"type": "line", "color": "#000000", "strokeWidth": 2.2, "clip": true},
              "encoding": {
                "x": {"field": "t", "type": "temporal", "axis": {"title": null}},
                "y": {"field": "p", "type": "quantitative", "axis": {"title": null}, "scale": {"type": "log"}},
                "detail": {"field": "id"}
              }
            },
            {
              "data": {"name": "bars"},
              "mark": {"type": "rule", "strokeWidth": 1, "clip": true, "xOffset": -1},
              "encoding": {
                "x": {"field": "t", "type": "temporal", "axis": {"title": null}},
                "y": {"field": "h", "type": "quantitative", "axis": {"title": null}, "scale": {"type": "log"}},
                "y2": {"field": "l"},
                "color": {"condition": {"test": "datum.c >= datum.o", "value": "#26a69a"}, "value": "#ef5350"}
              }
            },
            {
              "data": {"name": "bars"},
              "mark": {"type": "bar", "size": 3, "clip": true, "xOffset": -1},
              "encoding": {
                "x": {"field": "t", "type": "temporal", "axis": {"title": null, "grid": true, "labels": false, "ticks": false, "values": [{"year":2019,"month":10,"date":1},{"year":2019,"month":10,"date":4},{"year":2019,"month":10,"date":7},{"year":2019,"month":10,"date":10},{"year":2019,"month":10,"date":14},{"year":2019,"month":10,"date":17},{"year":2019,"month":10,"date":21},{"year":2019,"month":10,"date":24},{"year":2019,"month":10,"date":28},{"year":2019,"month":11,"date":1},{"year":2019,"month":11,"date":4},{"year":2019,"month":11,"date":7}]}},
                "y": {"field": "o", "type": "quantitative", "scale": {"type": "log"}, "axis": {"title": null, "orient": "right", "grid": true, "values": [8000,8200,8400,8600,8800,9000,9200], "labelExpr": "datum.value < 8400 ? '' : format(datum.value, '.2f')", "labelPadding": 6}},
                "y2": {"field": "c"},
                "color": {"condition": {"test": "datum.c >= datum.o", "value": "#26a69a"}, "value": "#ef5350"}
              }
            }
          ],
          "resolve": {"scale": {"color": "independent", "strokeWidth": "independent"}}
        }
      ]
    },
    {
      "width": 66,
      "height": 343,
      "data": {"name": "tags"},
      "encoding": {
        "y": {"field": "at", "type": "quantitative", "axis": null, "scale": {"type": "log", "domain": [7930,9264], "nice": false}}
      },
      "layer": [
        {
          "mark": {"type": "rule", "strokeWidth": 18},
          "encoding": {
            "x": {"datum": 0, "type": "quantitative", "axis": null, "scale": {"domain": [0,1], "range": [1,62]}},
            "x2": {"datum": 1},
            "color": {"field": "kind", "type": "nominal", "legend": null, "scale": {"domain": ["level","last","timer","bid"], "range": ["#000000","#ef5a5a","#f08585","#ff0000"]}}
          }
        },
        {
          "mark": {"type": "text", "color": "#ffffff", "fontSize": 12, "fontWeight": 600},
          "encoding": {
            "x": {"datum": 0.5, "type": "quantitative", "axis": null, "scale": {"domain": [0,1], "range": [1,62]}},
            "text": {"field": "label"}
          }
        }
      ]
    },
    {
      "width": 1151,
      "height": 63,
      "resolve": {"scale": {"color": "independent"}},
      "layer": [
        {
          "data": {"name": "bars"},
          "mark": {"type": "bar", "size": 4.67, "clip": true, "xOffset": -1},
          "encoding": {
            "x": {"field": "t", "type": "temporal", "axis": {"title": null}, "scale": {"domain": ["2019-09-29T07:43","2019-11-09T10:17"]}},
            "y": {"field": "m", "type": "quantitative", "axis": {"title": null}, "scale": {"domain": [-279,184], "nice": false, "zero": false}},
            "color": {"field": "s", "type": "nominal", "legend": null, "scale": {"domain": ["u","uf","d","df"], "range": ["#26a69a","#b2dfdb","#ef5350","#ffcdd2"]}}
          }
        },
        {
          "data": {"name": "macd"},
          "mark": {"type": "line", "strokeWidth": 1.2, "clip": true},
          "encoding": {
            "x": {"field": "t", "type": "temporal", "axis": {"title": null, "grid": true, "labels": false, "ticks": false, "values": [{"year":2019,"month":10,"date":1},{"year":2019,"month":10,"date":4},{"year":2019,"month":10,"date":7},{"year":2019,"month":10,"date":10},{"year":2019,"month":10,"date":14},{"year":2019,"month":10,"date":17},{"year":2019,"month":10,"date":21},{"year":2019,"month":10,"date":24},{"year":2019,"month":10,"date":28},{"year":2019,"month":11,"date":1},{"year":2019,"month":11,"date":4},{"year":2019,"month":11,"date":7}]}},
            "y": {"field": "m", "type": "quantitative", "axis": {"title": null, "orient": "right", "grid": true, "values": [0,-250], "format": ".2f", "labelPadding": 6}},
            "color": {"field": "s", "type": "nominal", "legend": null, "scale": {"domain": ["macd","signal"], "range": ["#2196f3","#ff8f3a"]}}
          }
        }
      ]
    },
    {"width": 66, "height": 63, "data": {"values": []}, "mark": "text", "encoding": {}},
    {
      "width": 1151,
      "height": 121,
      "layer": [
        {
          "data": {"values": [{"a": 30, "b": 70}]},
          "mark": {"type": "rect", "color": "#9915ff", "opacity": 0.1},
          "encoding": {
            "y": {"field": "a", "type": "quantitative", "axis": {"title": null}, "scale": {"domain": [23.3,79.1], "nice": false, "zero": false}},
            "y2": {"field": "b"}
          }
        },
        {
          "data": {"values": [{"r": 30},{"r": 70}]},
          "mark": {"type": "rule", "color": "#c3b6c8", "strokeWidth": 1, "strokeDash": [4,3]},
          "encoding": {"y": {"field": "r", "type": "quantitative", "axis": {"title": null}}}
        },
        {
          "data": {"name": "bars"},
          "mark": {"type": "line", "color": "#f98c5c", "strokeWidth": 1.2, "clip": true},
          "encoding": {
            "x": {"field": "t", "type": "temporal", "scale": {"domain": ["2019-09-29T07:43","2019-11-09T10:17"]}, "axis": {"title": null, "orient": "bottom", "grid": true, "labelPadding": 7, "labelColor": "#50535e", "labelFontWeight": {"condition": {"test": "date(datum.value) == 1", "value": "bold"}, "value": "normal"}, "labelExpr": "date(datum.value) != 1 ? timeFormat(datum.value, '%-d') : month(datum.value) == 9 ? 'Out' : 'Nov'", "values": [{"year":2019,"month":10,"date":1},{"year":2019,"month":10,"date":4},{"year":2019,"month":10,"date":7},{"year":2019,"month":10,"date":10},{"year":2019,"month":10,"date":14},{"year":2019,"month":10,"date":17},{"year":2019,"month":10,"date":21},{"year":2019,"month":10,"date":24},{"year":2019,"month":10,"date":28},{"year":2019,"month":11,"date":1},{"year":2019,"month":11,"date":4},{"year":2019,"month":11,"date":7}]}},
            "y": {"field": "r", "type": "quantitative", "axis": {"title": null, "orient": "right", "grid": true, "values": [40,60], "format": ".2f", "labelPadding": 6}}
          }
        }
      ]
    },
    {"width": 66, "height": 121, "data": {"values": []}, "mark": "text", "encoding": {}},
    {"width": 1151, "height": 29, "data": {"values": []}, "mark": "text", "encoding": {}},
    {"width": 66, "height": 29, "data": {"values": []}, "mark": "text", "encoding": {}},
    {
      "width": 1151,
      "height": 37,
      "view": {"stroke": null},
      "encoding": {
        "x": {"field": "slot", "type": "quantitative", "axis": null, "scale": {"domain": [0,1,2], "range": [0,77,89]}},
        "y": {"datum": 0.46, "type": "quantitative", "axis": null, "scale": {"domain": [0,1], "range": [37,0]}}
      },
      "layer": [
        {
          "data": {"values": [{"text": "Criado com", "slot": 0, "tone": "plain"},{"text": "TradingView", "slot": 2, "tone": "link"}]},
          "mark": {"type": "text", "align": "left", "fontSize": 12.3},
          "encoding": {
            "text": {"field": "text"},
            "color": {"field": "tone", "type": "nominal", "legend": null, "scale": {"domain": ["link","plain"], "range": ["#4db5e8","#1a1a1a"]}}
          }
        },
        {
          "data": {"values": [{"slot": 1}]},
          "mark": {"type": "point", "filled": true, "opacity": 1, "color": "#5bc0ea", "size": 480, "shape": "M-1,0.45 L-0.45,-0.2 L-0.25,-0.3 Q0,-0.75 0.3,-0.35 Q0.5,-0.35 0.6,-0.15 L1,0.45 L0.6,0.45 L0.3,0 L0,0.3 L-0.3,0 L-0.6,0.45 Z"}
        }
      ]
    },
    {"width": 66, "height": 37, "view": {"stroke": null}, "data": {"values": []}, "mark": "text", "encoding": {}}
  ]
}
